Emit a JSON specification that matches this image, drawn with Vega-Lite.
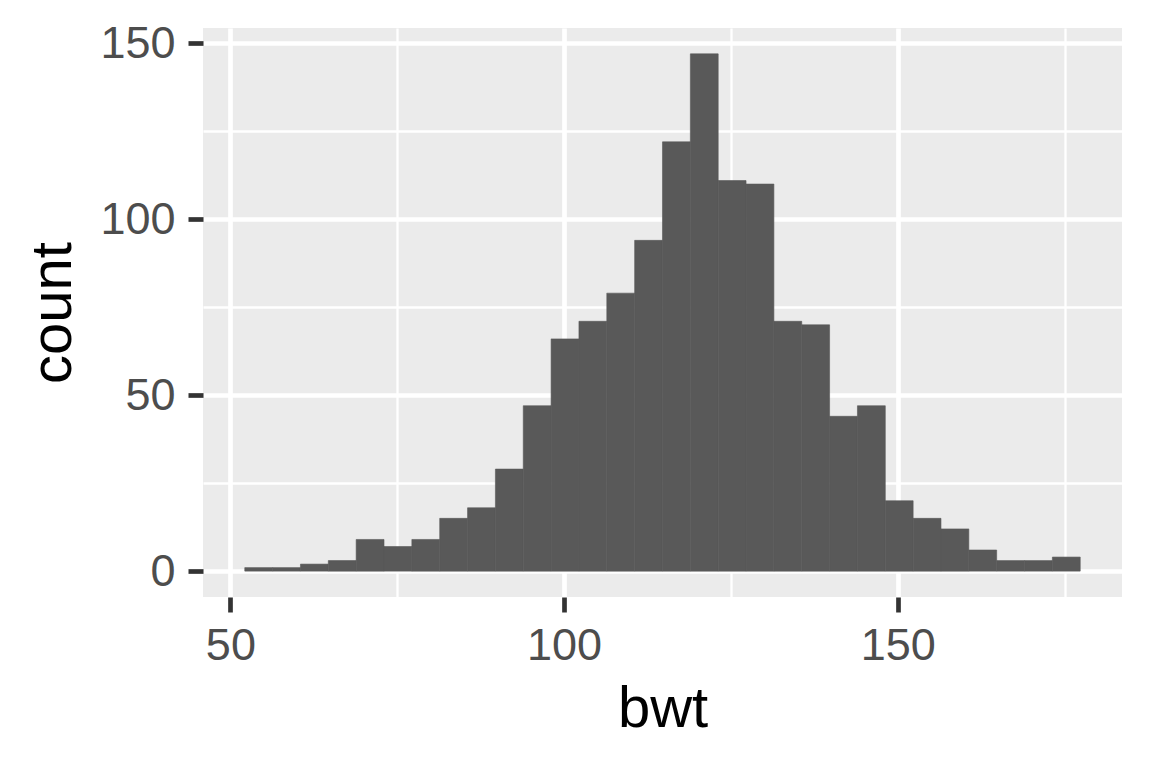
{
  "$schema": "https://vega.github.io/schema/vega-lite/v6.json",
  "width": 919,
  "height": 569,
  "autosize": {"type": "none"},
  "padding": {"left": 203, "top": 28, "right": 30, "bottom": 171},
  "background": "white",
  "data": {
    "values": [
      {"bin_start": 52.1552, "bin_end": 56.3276, "count": 1},
      {"bin_start": 56.3276, "bin_end": 60.5, "count": 1},
      {"bin_start": 60.5, "bin_end": 64.6724, "count": 2},
      {"bin_start": 64.6724, "bin_end": 68.8448, "count": 3},
      {"bin_start": 68.8448, "bin_end": 73.0172, "count": 9},
      {"bin_start": 73.0172, "bin_end": 77.1897, "count": 7},
      {"bin_start": 77.1897, "bin_end": 81.3621, "count": 9},
      {"bin_start": 81.3621, "bin_end": 85.5345, "count": 15},
      {"bin_start": 85.5345, "bin_end": 89.7069, "count": 18},
      {"bin_start": 89.7069, "bin_end": 93.8793, "count": 29},
      {"bin_start": 93.8793, "bin_end": 98.0517, "count": 47},
      {"bin_start": 98.0517, "bin_end": 102.2241, "count": 66},
      {"bin_start": 102.2241, "bin_end": 106.3966, "count": 71},
      {"bin_start": 106.3966, "bin_end": 110.569, "count": 79},
      {"bin_start": 110.569, "bin_end": 114.7414, "count": 94},
      {"bin_start": 114.7414, "bin_end": 118.9138, "count": 122},
      {"bin_start": 118.9138, "bin_end": 123.0862, "count": 147},
      {"bin_start": 123.0862, "bin_end": 127.2586, "count": 111},
      {"bin_start": 127.2586, "bin_end": 131.431, "count": 110},
      {"bin_start": 131.431, "bin_end": 135.6034, "count": 71},
      {"bin_start": 135.6034, "bin_end": 139.7759, "count": 70},
      {"bin_start": 139.7759, "bin_end": 143.9483, "count": 44},
      {"bin_start": 143.9483, "bin_end": 148.1207, "count": 47},
      {"bin_start": 148.1207, "bin_end": 152.2931, "count": 20},
      {"bin_start": 152.2931, "bin_end": 156.4655, "count": 15},
      {"bin_start": 156.4655, "bin_end": 160.6379, "count": 12},
      {"bin_start": 160.6379, "bin_end": 164.8103, "count": 6},
      {"bin_start": 164.8103, "bin_end": 168.9828, "count": 3},
      {"bin_start": 168.9828, "bin_end": 173.1552, "count": 3},
      {"bin_start": 173.1552, "bin_end": 177.3276, "count": 4}
    ]
  },
  "mark": {"type": "rect", "fill": "#595959", "stroke": "#595959", "strokeWidth": 0.6},
  "encoding": {
    "x": {
      "field": "bin_start",
      "type": "quantitative",
      "title": "bwt",
      "scale": {"domain": [45.897, 183.586], "nice": false, "zero": false},
      "axis": {
        "values": [50, 75, 100, 125, 150, 175],
        "labelExpr": "datum.value % 50 === 0 ? datum.label : ''",
        "gridWidth": {"condition": {"test": "datum.value % 50 === 0", "value": 4.7}, "value": 2.3},
        "tickOpacity": {"condition": {"test": "datum.value % 50 === 0", "value": 1}, "value": 0},
        "labelPadding": 11,
        "titlePadding": 12
      }
    },
    "x2": {"field": "bin_end"},
    "y": {
      "field": "count",
      "type": "quantitative",
      "title": "count",
      "scale": {"domain": [-7.35, 154.35], "nice": false, "zero": false},
      "axis": {
        "values": [0, 25, 50, 75, 100, 125, 150],
        "labelExpr": "datum.value % 50 === 0 ? datum.label : ''",
        "gridWidth": {"condition": {"test": "datum.value % 50 === 0", "value": 4.7}, "value": 2.3},
        "tickOpacity": {"condition": {"test": "datum.value % 50 === 0", "value": 1}, "value": 0},
        "labelPadding": 13,
        "titlePadding": 17
      }
    },
    "y2": {"datum": 0}
  },
  "config": {
    "view": {"fill": "#EBEBEB", "stroke": null},
    "axis": {
      "domain": false,
      "grid": true,
      "gridColor": "#FFFFFF",
      "gridOpacity": 1,
      "tickColor": "#333333",
      "tickSize": 15,
      "tickWidth": 4.7,
      "labelFont": "Liberation Sans",
      "labelFontSize": 45,
      "labelColor": "#4D4D4D",
      "titleFont": "Liberation Sans",
      "titleFontSize": 58,
      "titleFontWeight": "normal",
      "titleColor": "#000000",
      "labelOverlap": false,
      "labelFlush": false
    }
  }
}
